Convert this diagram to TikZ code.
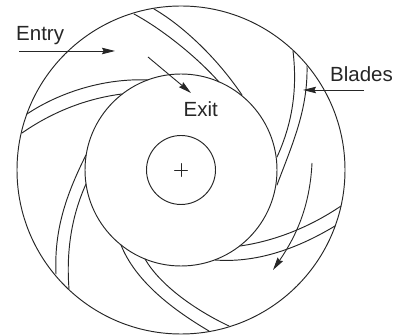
\documentclass[tikz,border=0pt]{standalone}
\usepackage{fontspec}
\setmainfont{Liberation Sans}
\usetikzlibrary{arrows.meta}
\tikzset{
  linework/.style={line width=0.95pt,draw=black!85,line cap=round},
  pointer/.style={line width=0.9pt,draw=black!85,-{Stealth[length=13pt,width=6.5pt,inset=1.5pt]}},
  lbl/.style={font=\fontsize{20.5}{20.5}\selectfont,text=black!85,inner sep=0pt,anchor=base west}
}
\begin{document}
\begin{tikzpicture}[x=1pt,y=-1pt]
\useasboundingbox (0,0) rectangle (394,336);
\coordinate (c) at (181,170);
\draw[linework] (c) circle[radius=164];
\draw[linework] (c) circle[radius=96];
\draw[linework] (c) circle[radius=34.5];
\draw[linework] (174.5,170) -- (187.5,170) (181,163.5) -- (181,176.5);
% blades
\draw[linework] (154,9) .. controls (180,24) and (215,55) .. (242,95);
\draw[linework] (134,14) .. controls (160,28) and (195,55) .. (219,82);
\draw[linework] (293,51) .. controls (297,85) and (294,120) .. (277,157);
\draw[linework] (307,66) .. controls (308,110) and (292,145) .. (277,185);
\draw[linework] (341,206) .. controls (310,227) and (275,241) .. (240,246);
\draw[linework] (335,226) .. controls (295,250) and (255,263) .. (215,260);
\draw[linework] (121,245) .. controls (135,280) and (170,308) .. (209,331);
\draw[linework] (145,259) .. controls (160,285) and (195,310) .. (229,326);
\draw[linework] (56,274) .. controls (54,230) and (66,195) .. (86,155);
\draw[linework] (69,289) .. controls (66,250) and (72,215) .. (86,184);
\draw[linework] (27,114) .. controls (60,92) and (105,78) .. (148,80);
\draw[linework] (22,133) .. controls (55,110) and (90,98) .. (122,94);
% labels
\node[lbl] (entry) at (16,41) {Entry};
\node[lbl] (exit) at (183.5,117) {Exit};
\node[lbl] (blades) at (330,82) {Blades};
% arrows
\coordinate (a1) at (19,51); \coordinate (a2) at (115,51);
\coordinate (b1) at (148,57); \coordinate (b2) at (191,93);
\coordinate (d1) at (364,90); \coordinate (d2) at (303,90);
\coordinate (e1) at (312,163); \coordinate (e2) at (273,270);
\draw[pointer] (a1) -- (a2);
\draw[pointer] (b1) -- (b2);
\draw[pointer] (d1) -- (d2);
\draw[pointer] (e1) .. controls (310,205) and (297,235) .. (e2);
\end{tikzpicture}
\end{document}
